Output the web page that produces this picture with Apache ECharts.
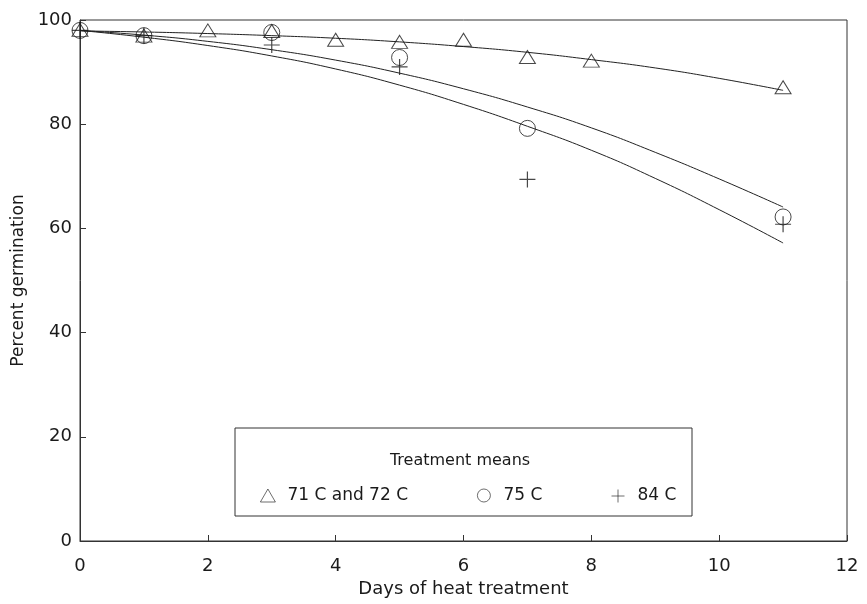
<!DOCTYPE html>
<html><head><meta charset="utf-8">
<script src="https://cdn.jsdelivr.net/npm/echarts@6/dist/echarts.min.js"></script>
<style>html,body{margin:0;padding:0;background:#fff}#c{width:867px;height:604px}</style>
</head><body><div id="c"></div>
<script>
// Observed treatment means
const daysTri = [0, 1, 2, 3, 4, 5, 6, 7, 8, 11];
const meansTri = [98.1, 97.0, 98.0, 97.9, 96.2, 95.8, 96.2, 92.9, 92.2, 87.1];
const daysCirc = [0, 1, 3, 5, 7, 11];
const meansCirc = [98.0, 97.0, 97.6, 92.8, 79.2, 62.2];
const daysPlus = [0, 1, 3, 5, 7, 11];
const meansPlus = [98.0, 97.0, 95.2, 91.0, 69.4, 60.8];
// Fitted curves
const curveDays = [0, 1, 2, 3, 4, 5, 6, 7, 8, 9, 10, 11];
const curve71 = [97.9, 97.7, 97.4, 97.0, 96.5, 95.8, 94.9, 93.8, 92.4, 90.8, 88.8, 86.5];
const curve75 = [98.0, 97.1, 95.9, 94.3, 92.3, 89.8, 86.8, 83.3, 79.3, 74.6, 69.5, 64.1];
const curve84 = [98.0, 96.7, 95.1, 93.1, 90.6, 87.5, 83.8, 79.6, 75.0, 69.6, 63.6, 57.2];
const xTicks = [0, 2, 4, 6, 8, 10, 12];
const yTicks = [0, 20, 40, 60, 80, 100];
const names = ['71 C and 72 C', '75 C', '84 C'];

const zip = (xs, ys) => xs.map((x, i) => [x, ys[i]]);
const FONT = 'DejaVu Sans';
const INK = '#1a1a1a';
const hollow = { color: 'rgba(255,255,255,0)', borderColor: INK, borderWidth: 1 };
const plusPath = 'path://M8,0L8,16M0,8L16,8';

const chart = echarts.init(document.getElementById('c'), null, { renderer: 'canvas' });
const curve = (ys) => ({
  type: 'line', data: zip(curveDays, ys), smooth: true, showSymbol: false, silent: true,
  lineStyle: { color: '#222', width: 1 }, z: 1
});
const legendBase = {
  top: 482, itemWidth: 15, itemHeight: 13, itemGap: 0,
  textStyle: { fontFamily: FONT, fontSize: 17, color: INK, padding: [0, 0, 0, 7] },
  itemStyle: { borderWidth: 0.8 },
  selectedMode: false
};
chart.setOption({
  backgroundColor: '#fff',
  animation: false,
  grid: { left: 80, right: 20, top: 20, bottom: 63, show: true, borderColor: '#333', borderWidth: 1 },
  xAxis: {
    type: 'value', min: xTicks[0], max: xTicks[xTicks.length - 1], interval: 2,
    name: 'Days of heat treatment', nameLocation: 'middle', nameGap: 36,
    nameTextStyle: { fontFamily: FONT, fontSize: 18, color: INK },
    axisLine: { lineStyle: { color: '#333' } },
    axisTick: { inside: true, length: 6, lineStyle: { color: '#333' } },
    axisLabel: { fontFamily: FONT, fontSize: 18, color: INK, margin: 16 },
    splitLine: { show: false }
  },
  yAxis: {
    type: 'value', min: yTicks[0], max: yTicks[yTicks.length - 1], interval: 20,
    name: 'Percent germination', nameLocation: 'middle', nameGap: 40,
    nameTextStyle: { fontFamily: FONT, fontSize: 17, color: INK },
    axisLine: { show: true, lineStyle: { color: '#333' } },
    axisTick: { show: true, inside: true, length: 6, lineStyle: { color: '#333' } },
    axisLabel: { fontFamily: FONT, fontSize: 18, color: INK, margin: 8 },
    splitLine: { show: false }
  },
  legend: [
    Object.assign({}, legendBase, { left: 255, data: [names[0]] }),
    Object.assign({}, legendBase, { left: 472, data: [names[1]] }),
    Object.assign({}, legendBase, { left: 604, data: [names[2]] })
  ],
  graphic: [
    { type: 'rect', shape: { x: 235, y: 428, width: 457, height: 88 },
      style: { fill: 'none', stroke: '#333', lineWidth: 1 }, z: 100 },
    { type: 'text', x: 460, y: 461, z: 100,
      style: { text: 'Treatment means', fontFamily: FONT, fontSize: 16, fill: INK,
               align: 'center', verticalAlign: 'middle' } }
  ],
  series: [
    curve(curve71), curve(curve75), curve(curve84),
    { name: names[0], type: 'scatter', data: zip(daysTri, meansTri), symbol: 'triangle',
      symbolSize: [16, 13], itemStyle: hollow, z: 3 },
    { name: names[1], type: 'scatter', data: zip(daysCirc, meansCirc), symbol: 'circle',
      symbolSize: 16, itemStyle: hollow, z: 3 },
    { name: names[2], type: 'scatter', data: zip(daysPlus, meansPlus), symbol: plusPath,
      symbolSize: 16, itemStyle: { color: 'none', borderColor: INK, borderWidth: 1.2 }, z: 3 }
  ]
});
</script></body></html>
